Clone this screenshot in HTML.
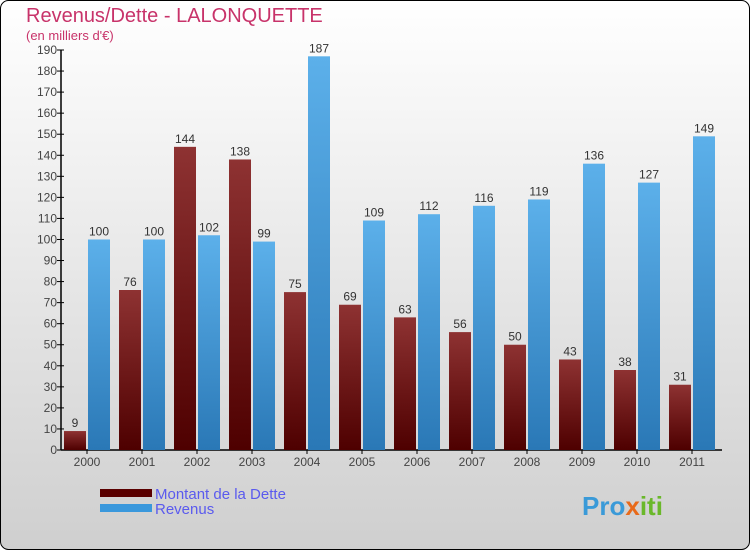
<!DOCTYPE html>
<html><head><meta charset="utf-8"><style>
body{margin:0;width:750px;height:550px;overflow:hidden}
svg{display:block;font-family:"Liberation Sans",sans-serif}
</style></head><body>
<svg id="c" width="750" height="550">
<defs>
<linearGradient id="bg" x1="0" y1="0" x2="0" y2="1"><stop offset="0" stop-color="#ffffff"/><stop offset="1" stop-color="#cfcfcf"/></linearGradient>
<linearGradient id="gd" x1="0" y1="0" x2="0" y2="1"><stop offset="0" stop-color="#8e3232"/><stop offset="1" stop-color="#4e0000"/></linearGradient>
<linearGradient id="gr" x1="0" y1="0" x2="0" y2="1"><stop offset="0" stop-color="#5cb0ea"/><stop offset="1" stop-color="#2a78b6"/></linearGradient>
</defs>
<rect x="0.5" y="0.5" width="749" height="549" rx="8" fill="url(#bg)" stroke="#000"/>
<text x="26" y="22" font-size="20" fill="#c8336a">Revenus/Dette - LALONQUETTE</text>
<text x="26" y="40" font-size="13" fill="#c8336a">(en milliers d'€)</text>
<g id="axes"></g>
<g id="bars"></g>
<rect x="100" y="489" width="52" height="8" fill="#5a0000"/>
<text x="155" y="499" font-size="15" fill="#5a5aee">Montant de la Dette</text>
<rect x="100" y="504" width="52" height="8" fill="#3a98dc"/>
<text x="155" y="514" font-size="15" fill="#5a5aee">Revenus</text>
<text x="582" y="515" font-size="26" font-weight="bold" fill="#3a9ad8">Pro<tspan fill="#e86a1a">x</tspan><tspan fill="#6ab82a">iti</tspan></text>
</svg>
<script>
const years=["2000","2001","2002","2003","2004","2005","2006","2007","2008","2009","2010","2011"];
const debt=[9,76,144,138,75,69,63,56,50,43,38,31];
const revenue=[100,100,102,99,187,109,112,116,119,136,127,149];
const yTicks=[0,10,20,30,40,50,60,70,80,90,100,110,120,130,140,150,160,170,180,190];
const NS="http://www.w3.org/2000/svg";
const y0=450,yTop=50,yMax=190,x0=61,step=55,firstCenter=87,bw=22;
const y=v=>y0-(v/yMax)*(y0-yTop);
const xc=i=>firstCenter+i*step;
function mk(tag,attrs,parent,txt){const e=document.createElementNS(NS,tag);for(const k in attrs)e.setAttribute(k,attrs[k]);if(txt!==undefined)e.textContent=txt;parent.appendChild(e);return e;}
const ax=document.getElementById('axes'),bars=document.getElementById('bars');
let l=mk('line',{x1:x0,y1:yTop,x2:x0,y2:y0,stroke:'#000','stroke-width':1.5},ax);


l=mk('line',{x1:x0,y1:y0,x2:722,y2:y0,stroke:'#000','stroke-width':1.5},ax);


yTicks.forEach(t=>{
 const tk=mk('line',{x1:x0-4,y1:y(t),x2:x0+3,y2:y(t),stroke:'#000'},ax);
 
 
 const tl=mk('text',{x:x0-4,y:y(t)+4,'font-size':12,'text-anchor':'end',fill:'#444'},ax,String(t));
 
 
});
years.forEach((yr,i)=>{
 const c=xc(i);
 const tk=mk('line',{x1:c,y1:y0,x2:c,y2:y0+4,stroke:'#000'},ax);
 
 
 const xl=mk('text',{x:c,y:y0+16,'font-size':12,'text-anchor':'middle',fill:'#444'},ax,yr);
 
 
 const d=mk('rect',{x:c-bw-1,y:y(debt[i]),width:bw,height:y0-y(debt[i]),fill:'url(#gd)'},bars);
 
 
 const dl=mk('text',{x:c-bw/2-1,y:y(debt[i])-4,'font-size':12,'text-anchor':'middle',fill:'#333'},bars,String(debt[i]));
 
 
 const r=mk('rect',{x:c+1,y:y(revenue[i]),width:bw,height:y0-y(revenue[i]),fill:'url(#gr)'},bars);
 
 
 const rl=mk('text',{x:c+1+bw/2,y:y(revenue[i])-4,'font-size':12,'text-anchor':'middle',fill:'#333'},bars,String(revenue[i]));
 
 
});
</script>
</body></html>
